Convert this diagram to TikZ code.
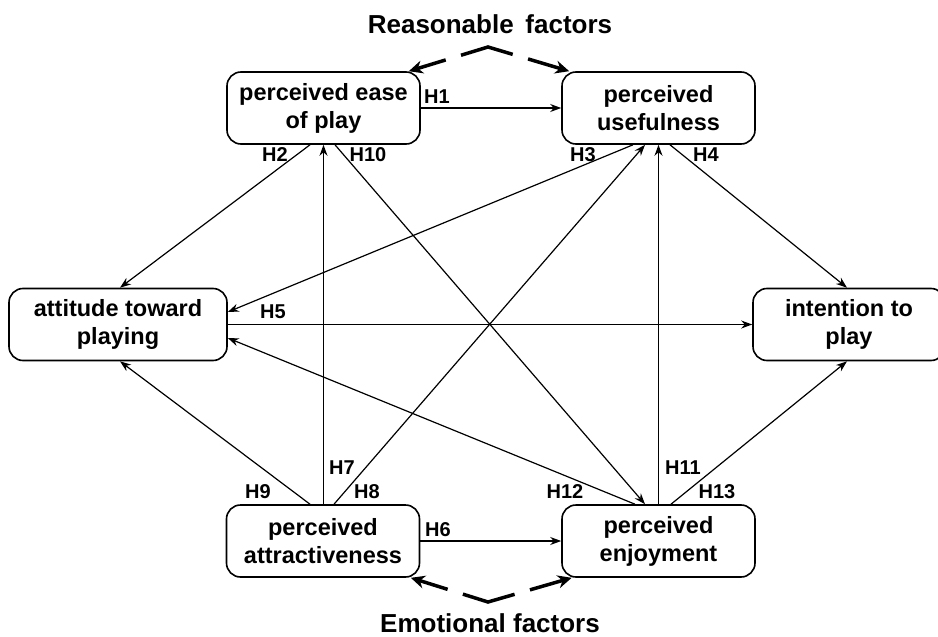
\documentclass[tikz,border=0pt]{standalone}
\usepackage{fontspec}
\setmainfont{Liberation Sans}
\usetikzlibrary{arrows.meta}
\begin{document}
\begin{tikzpicture}[x=1pt,y=-1pt,
  box/.style={draw, line width=1.6pt, rounded corners=14pt, minimum width=193pt,
    minimum height=72pt, align=center, inner sep=0pt,
    font=\fontsize{23.5}{28}\selectfont\bfseries},
  conn/.style={line width=1.2pt, -{Stealth[length=11pt,width=8pt]}},
  hlab/.style={font=\fontsize{20}{22}\selectfont\bfseries, inner sep=0pt},
  titletext/.style={font=\fontsize{26}{30}\selectfont\bfseries, inner sep=0pt},
  factor/.style={line width=3.5pt,
    {Stealth[length=14pt,width=13pt]}-{Stealth[length=14pt,width=13pt]},
    dash pattern=on 30pt off 16pt on 54pt off 16pt on 200pt}]
\useasboundingbox (0,0) rectangle (938,637);

% nodes
\node[box] (ease) at (323.5,108) {perceived ease\\of play};
\node[box] (use)  at (658.5,108) {perceived\\usefulness};
\node[box, minimum width=218pt] (att) at (118,324.5) {attitude toward\\playing};
\node[box, minimum width=192pt] (int) at (849,324.5) {intention to\\play};
\node[box] (attr) at (323,541) {perceived\\attractiveness};
\node[box] (enj)  at (658.5,541) {perceived\\enjoyment};

% titles
\node[titletext] (rf) at (490,24) {Reasonable\hspace{0.45em}factors};
\node[titletext] (ef) at (490,623) {Emotional factors};

% factor arrows
\coordinate (rpeak) at (488,47);
\coordinate (evalley) at (488,602);
\draw[factor] ([xshift=-12pt]ease.north east) -- (rpeak) -- ([xshift=8pt]use.north west);
\draw[factor] ([xshift=-9.5pt]attr.south east) -- (evalley) -- ([xshift=10.5pt]enj.south west);

% connectors
\draw[conn] (ease.east) -- (use.west);
\draw[conn] ([xshift=-13.5pt]ease.south) -- ([xshift=2pt]att.north);
\draw[conn] ([xshift=0.5pt]attr.north) -- ([xshift=0.5pt]attr.north |- ease.south);
\draw[conn] ([xshift=11.5pt]ease.south) -- ([xshift=-13.5pt]enj.north);
\draw[conn] ([xshift=-25.5pt]use.south) -- ([yshift=12.5pt]att.east);
\draw[conn] ([xshift=11pt]attr.north) -- ([xshift=-13.5pt]use.south);
\draw[conn] (enj.north) -- (use.south);
\draw[conn] ([xshift=11.5pt]use.south) -- ([xshift=-2pt]int.north);
\draw[conn] (att.east) -- (int.west);
\draw[conn] ([xshift=-23.5pt]enj.north) -- ([yshift=-13.5pt]att.east);
\draw[conn] ([xshift=12.5pt]enj.north) -- ([xshift=-2pt]int.south);
\draw[conn] (attr.east) -- (enj.west);
\draw[conn] ([xshift=-13pt]attr.north) -- ([xshift=2pt]att.south);

% labels
\node[hlab] (h1) at (437,97) {H1};
\node[hlab] (h2) at (275,155) {H2};
\node[hlab] (h10) at (368,155) {H10};
\node[hlab] (h3) at (583,155) {H3};
\node[hlab] (h4) at (706,155) {H4};
\node[hlab] (h5) at (273,312) {H5};
\node[hlab] (h6) at (438,530) {H6};
\node[hlab] (h7) at (342,468) {H7};
\node[hlab] (h8) at (367,492) {H8};
\node[hlab] (h9) at (258,492) {H9};
\node[hlab] (h11) at (683,468) {H11};
\node[hlab] (h12) at (565,492) {H12};
\node[hlab] (h13) at (717,492) {H13};
\end{tikzpicture}
\end{document}
